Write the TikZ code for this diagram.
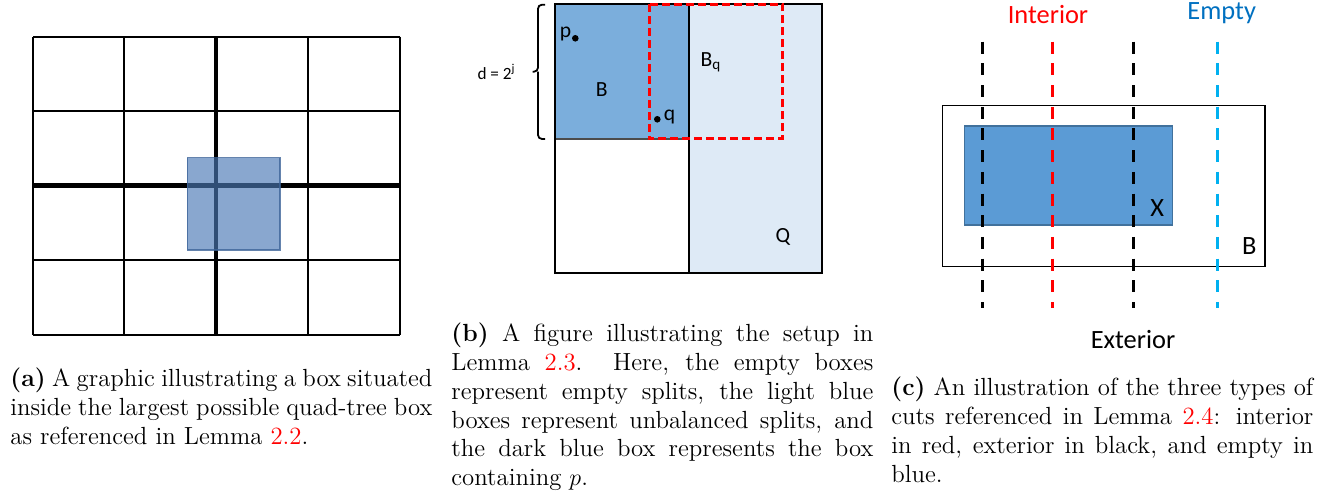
\documentclass[tikz,border=0pt]{standalone}
\usepackage{fontspec}
\newfontfamily\figfont{Carlito}
\definecolor{gridblue}{HTML}{4A78B5}
\definecolor{gridblueedge}{HTML}{3D6498}
\definecolor{darkB}{HTML}{7BAEDC}
\definecolor{lightQ}{HTML}{DEEAF6}
\definecolor{boxX}{HTML}{5B9BD5}
\definecolor{boxXedge}{HTML}{41719C}
\definecolor{cutred}{HTML}{FF0000}
\definecolor{cutcyan}{HTML}{00B0F0}
\definecolor{emptyblue}{HTML}{0070C0}
\tikzset{
  thinline/.style={line width=0.9pt,black},
  thickline/.style={line width=2.4pt,black},
  cut/.style={line width=1.45pt,dash pattern=on 6pt off 4.85pt},
  capt/.style={anchor=base west,inner sep=0pt,text width=211pt,align=justify,font=\fontsize{12.4}{14.35}\selectfont},
  bl/.style={font=\figfont\fontsize{10.8}{12}\selectfont,inner sep=0pt},
  cl/.style={font=\figfont\fontsize{13.2}{15}\selectfont,inner sep=0pt},
}
\begin{document}
\begin{tikzpicture}[x=0.5pt,y=-0.5pt]
\useasboundingbox (0,0) rectangle (1330,497);
% ---------- panel (a)
\foreach \xx in {33,124.3,307.7,400} \draw[thinline] (\xx,36.7) -- (\xx,335);
\foreach \yy in {36.7,111,260,335} \draw[thinline] (33,\yy) -- (400,\yy);
\draw[thickline] (216,36.7) -- (216,335);
\draw[thickline] (33,185.7) -- (400,185.7);
\fill[gridblue,opacity=0.65] (187.3,157.7) rectangle (280,250);
\draw[gridblueedge,line width=0.8pt,opacity=0.8] (187.3,157.7) rectangle (280,250);
\node[capt] (capa) at (10,387) {\hyphenpenalty=10000\textbf{(a)} A graphic illustrating a box situated\linebreak inside the largest possible quad-tree box\linebreak as referenced in Lemma \textcolor{red}{2.2}.};
% ---------- panel (b)
\fill[lightQ] (689,4.3) rectangle (822.3,273.3);
\fill[darkB] (555,4.3) rectangle (689,139);
\draw[line width=0.6pt,black!70] (555,139) -- (689,139);
\draw[line width=1.1pt,black] (555,4.3) rectangle (822.3,273.3);
\draw[line width=1.1pt,black] (689,4.3) -- (689,273.3);
\draw[cutred,line width=1.5pt,dash pattern=on 4pt off 2pt] (649,4.3) rectangle (782.7,139);
\draw[line width=0.9pt,rounded corners=2pt] (545,4.7) -- (538,4.7) -- (538,71.7) -- (532.7,71.7);
\draw[line width=0.9pt,rounded corners=2pt] (545,139) -- (538,139) -- (538,71.7);
\node[bl,font=\figfont\fontsize{8.6}{10}\selectfont] (dlab) at (496.5,72) {d = 2\textsuperscript{j}};
\fill (575.3,38.3) circle (1.65pt);
\node[bl] (plab) at (565.5,34) {p};
\fill (657.3,119.3) circle (1.65pt);
\node[bl] (qlab) at (669.5,117) {q};
\node[bl] (Blab) at (601.7,90) {B};
\node[bl] (Bqlab) at (711,62) {B\textsubscript{q}};
\node[bl] (Qlab) at (783,237) {Q};
\node[capt] (captb) at (451,342) {\hyphenpenalty=10000\textbf{(b)} A figure illustrating the setup in\linebreak Lemma \textcolor{red}{2.3}. Here, the empty boxes\linebreak represent empty splits, the light blue\linebreak boxes represent unbalanced splits, and\linebreak the dark blue box represents the box\linebreak containing $p$.};
% ---------- panel (c)
\draw[line width=0.8pt,black] (942.3,105.7) rectangle (1265,266.7);
\fill[boxX] (964.3,126) rectangle (1172.7,225);
\draw[boxXedge,line width=0.6pt] (964.3,126) rectangle (1172.7,225);
\draw[cut,black] (982.7,41.7) -- (982.7,308.3);
\draw[cut,cutred,line width=1.75pt] (1052.3,41.7) -- (1052.3,308.3);
\draw[cut,black] (1133.3,41.7) -- (1133.3,308.3);
\draw[cut,cutcyan,line width=1.75pt] (1217.3,41.7) -- (1217.3,308.3);
\node[cl,text=cutred] (intlab) at (1048,15) {Interior};
\node[cl,text=emptyblue] (emplab) at (1221.7,13) {Empty};
\node[cl] (extlab) at (1133,340) {Exterior};
\node[cl] (Xlab) at (1157.3,208.3) {X};
\node[cl] (Bclab) at (1249.3,245.7) {B};
\node[capt] (captc) at (891,396) {\hyphenpenalty=10000\textbf{(c)} An illustration of the three types of\linebreak cuts referenced in Lemma \textcolor{red}{2.4}: interior\linebreak in red, exterior in black, and empty in\linebreak blue.};
\end{tikzpicture}
\end{document}
